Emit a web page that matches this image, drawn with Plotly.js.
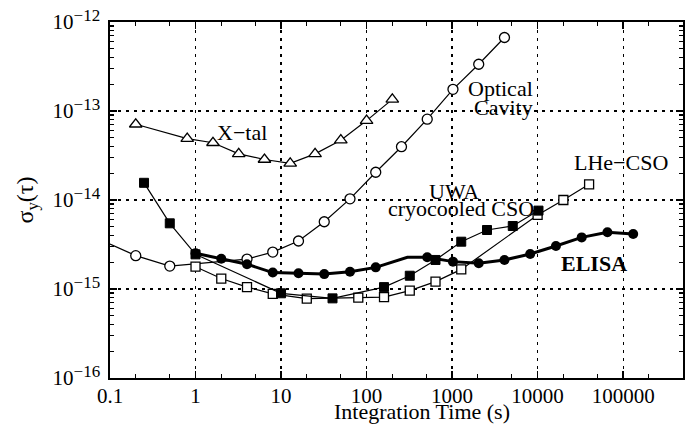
<!DOCTYPE html>
<html>
<head>
<meta charset="utf-8">
<script src="https://cdn.plot.ly/plotly-3.0.1.min.js"></script>
<style>
html,body{margin:0;padding:0;background:#fff;}
#chart{width:691px;height:428px;}
</style>
</head>
<body>
<div id="chart"></div>
<script>
// X-tal (open triangles)
const xtalX = [0.2, 0.8, 1.6, 3.2, 6.4, 12.8, 25, 50, 100, 200];
const xtalY = [7.1e-14, 4.9e-14, 4.4e-14, 3.3e-14, 2.85e-14, 2.58e-14, 3.3e-14, 4.7e-14, 7.8e-14, 1.35e-13];

// Optical Cavity (open circles); first value is where the curve enters the frame
const optX = [0.1, 0.2, 0.5, 4, 8, 16, 32, 64, 128, 256, 512, 1024, 2048, 4096];
const optY = [3.2e-15, 2.37e-15, 1.81e-15, 2.17e-15, 2.6e-15, 3.46e-15, 5.7e-15, 1.03e-14, 2.05e-14, 3.97e-14, 8.1e-14, 1.75e-13, 3.35e-13, 6.7e-13];

// UWA cryocooled CSO (filled squares)
const uwaX = [0.25, 0.5, 1, 10, 40, 160, 320, 640, 1280, 2560, 5120, 10240];
const uwaY = [1.56e-14, 5.47e-15, 2.45e-15, 8.95e-16, 7.85e-16, 1.05e-15, 1.41e-15, 2.12e-15, 3.4e-15, 4.6e-15, 5.1e-15, 7.6e-15];

// LHe-CSO (open squares)
const lheX = [1, 2, 4, 8, 20, 80, 160, 320, 640, 1280, 10000, 20000, 40000];
const lheY = [1.78e-15, 1.31e-15, 1.05e-15, 8.8e-16, 7.8e-16, 8.0e-16, 8.1e-16, 9.6e-16, 1.21e-15, 1.66e-15, 6.8e-15, 1.0e-14, 1.5e-14];

// ELISA (filled circles, thick line); the 300 s value is a bend without a marker
const elisaX = [1, 2, 4, 8, 16, 32, 64, 128, 300, 512, 1024, 2048, 4096, 8192, 16384, 32768, 65536, 131072];
const elisaY = [2.52e-15, 2.19e-15, 1.9e-15, 1.53e-15, 1.5e-15, 1.47e-15, 1.56e-15, 1.75e-15, 2.27e-15, 2.27e-15, 2.03e-15, 1.95e-15, 2.12e-15, 2.47e-15, 3.04e-15, 3.8e-15, 4.34e-15, 4.15e-15];

// Axis ticks
const xTickVals = [0.1, 1, 10, 100, 1000, 10000, 100000];
const xTickText = ["0.1", "1", "10", "100", "1000", "10000", "100000"];
const yTickVals = [1e-16, 1e-15, 1e-14, 1e-13, 1e-12];
const yExponents = ["\u221216", "\u221215", "\u221214", "\u221213", "\u221212"];

const FONT = "Liberation Serif";
const thin = {color: "#000", width: 1.2};

const traces = [
  {x: optX, y: optY, mode: "lines+markers", line: thin,
   marker: {symbol: "circle", color: "#fff", opacity: 1, size: optX.map((v, i) => i === 0 ? 0 : 10), line: {color: "#000", width: 1.3}}},
  {x: xtalX, y: xtalY, mode: "lines+markers", line: thin,
   marker: {symbol: "triangle-up", color: "#fff", opacity: 1, size: 11, line: {color: "#000", width: 1.3}}},
  {x: lheX, y: lheY, mode: "lines+markers", line: thin,
   marker: {symbol: "square", color: "#fff", opacity: 1, size: 9, line: {color: "#000", width: 1.3}}},
  {x: uwaX, y: uwaY, mode: "lines+markers", line: thin,
   marker: {symbol: "square", color: "#000", opacity: 1, size: 9, line: {color: "#000", width: 1}}},
  {x: elisaX, y: elisaY, mode: "lines+markers", line: {color: "#000", width: 3},
   marker: {symbol: "circle", color: "#000", opacity: 1, size: elisaX.map(v => v === 300 ? 0 : 10), line: {color: "#000", width: 0}}}
];

const ann = (text, x, y, bold) => ({
  text: bold ? "<b>" + text + "</b>" : text, x: x, y: y, xref: "x", yref: "y",
  showarrow: false, xanchor: "center", yanchor: "middle",
  font: {family: FONT, size: 22, color: "#000"}
});

const layout = {
  width: 691, height: 428,
  margin: {l: 110, r: 8, t: 22, b: 50},
  paper_bgcolor: "#fff", plot_bgcolor: "#fff",
  showlegend: false,
  font: {family: FONT, size: 21, color: "#000"},
  xaxis: {
    type: "log", range: [-1, 5.7],
    tickmode: "array", tickvals: xTickVals, ticktext: xTickText,
    ticks: "inside", ticklen: 7, tickwidth: 1.3, tickcolor: "#000",
    minor: {ticks: "inside", ticklen: 4, tickwidth: 1.2, tickcolor: "#000", dtick: "D2", showgrid: false},
    showline: true, linecolor: "#000", linewidth: 1.6, mirror: "ticks",
    showgrid: true, gridcolor: "#000", gridwidth: 1.2, griddash: "3px,5px",
    zeroline: false,
    ticklabelstandoff: -2,
    tickfont: {family: FONT, size: 21, color: "#000"}
  },
  yaxis: {
    type: "log", range: [-16, -12],
    tickmode: "array", tickvals: yTickVals,
    ticktext: yExponents.map(e => "10<sup><span style=\"font-size:17px\">" + e + "</span></sup>"),
    ticks: "inside", ticklen: 7, tickwidth: 1.3, tickcolor: "#000",
    minor: {ticks: "inside", ticklen: 4, tickwidth: 1.2, tickcolor: "#000", dtick: "D1", showgrid: false},
    showline: true, linecolor: "#000", linewidth: 1.6, mirror: "ticks",
    showgrid: true, gridcolor: "#000", gridwidth: 1.2, griddash: "3px,5px",
    zeroline: false,
    ticklabelstandoff: 4,
    tickfont: {family: FONT, size: 21, color: "#000"},
    title: {text: "\u03c3<sub>y</sub>(\u03c4)", font: {family: FONT, size: 24, color: "#000"}, standoff: 12}
  },
  annotations: [
    {text: "Integration Time (s)", xref: "paper", yref: "paper", x: 0.5445, y: -0.093,
     xanchor: "center", yanchor: "middle", showarrow: false,
     font: {family: FONT, size: 22, color: "#000"}},
    ann("X\u2212tal", 0.538, -13.236),
    ann("Optical", 3.567, -12.742),
    ann("Cavity", 3.602, -12.955),
    ann("UWA", 3.018, -13.91),
    ann("cryocooled CSO", 3.099, -14.09),
    ann("LHe\u2212CSO", 4.971, -13.584),
    ann("ELISA", 4.655, -14.708, true)
  ]
};

Plotly.newPlot("chart", traces, layout, {staticPlot: true, displayModeBar: false});
</script>
</body>
</html>
